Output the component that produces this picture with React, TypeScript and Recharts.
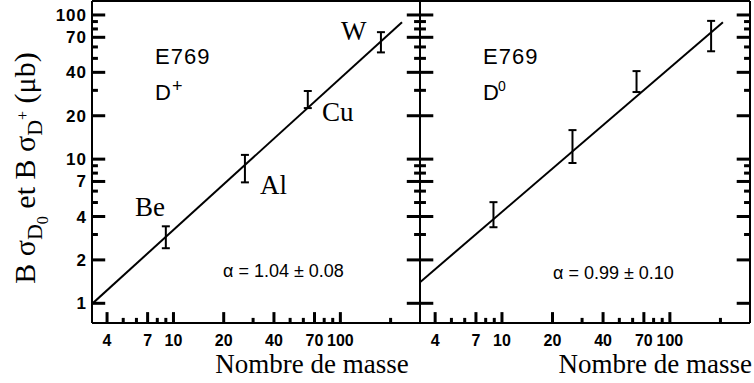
import React from 'react';
import { ScatterChart, Scatter, XAxis, YAxis, ErrorBar, ReferenceLine } from 'recharts';

// axis ticks (log scales)
const xTicks = [4, 5, 6, 7, 8, 9, 10, 20, 30, 40, 50, 60, 70, 80, 90, 100, 200];
const xLabeled = [4, 7, 10, 20, 40, 70, 100];
const yTicks = [1, 2, 3, 4, 5, 6, 7, 8, 9, 10, 20, 30, 40, 50, 60, 70, 80, 90, 100];
const yLabeled = [1, 2, 4, 7, 10, 20, 40, 70, 100];
const xDomain = [3.25, 300];
const yDomain = [0.73, 125];

const targets = ['Be', 'Al', 'Cu', 'W'];
const massDPlus = [9, 26.8, 63.8, 175];
const centerDPlus = [2.87, 8.6, 25.9, 64.7];
const lowDPlus = [2.41, 6.9, 22.6, 55];
const highDPlus = [3.42, 10.7, 29.7, 76];

const massD0 = [8.9, 26.3, 63.3, 176];
const centerD0 = [4.1, 12.2, 34.5, 71];
const lowD0 = [3.37, 9.4, 29.2, 56];
const highD0 = [5.03, 15.9, 40.8, 91];

// fitted power laws (end points)
const fitDPlusX = [3.25, 234];
const fitDPlusY = [0.99, 89];
const fitD0X = [3.25, 207];
const fitD0Y = [1.4, 89];

const toPoints = (mass: number[], c: number[], lo: number[], hi: number[]) =>
  mass.map((m, i) => ({ name: targets[i], x: m, y: c[i], err: [c[i] - lo[i], hi[i] - c[i]] }));
const toLine = (xs: number[], ys: number[]) => xs.map((x, i) => ({ x, y: ys[i] }));

const dPlus = toPoints(massDPlus, centerDPlus, lowDPlus, highDPlus);
const d0 = toPoints(massD0, centerD0, lowD0, highD0);
const fitDPlus = toLine(fitDPlusX, fitDPlusY);
const fitD0 = toLine(fitD0X, fitD0Y);

// inward tick lengths as log-scale factors (about 13px / 6px on x, 11px / 5px on y)
const xMajorK = 1.2;
const xMinorK = 1.085;
const yMajorK = 1.19;
const yMinorK = 1.085;

const tickFont = { fontFamily: 'Liberation Sans, Arial, sans-serif', fontWeight: 700 };
const serif = 'Liberation Serif, Times New Roman, serif';
const frame = { stroke: '#000', strokeWidth: 2 };

const XLabel = (p: any) => {
  const v = p.payload.value;
  if (!xLabeled.includes(v)) return <g />;
  return (
    <text x={p.x} y={Number(p.y) + 23} textAnchor="middle" fontSize={16} fill="#000" style={tickFont}>
      {v}
    </text>
  );
};

const YLabel = (p: any) => {
  const v = p.payload.value;
  if (!yLabeled.includes(v)) return <g />;
  return (
    <text x={Number(p.x) - 5} y={Number(p.y) + 6} textAnchor="end" fontSize={17} letterSpacing={1} fill="#000" style={tickFont}>
      {v}
    </text>
  );
};

const Empty = () => <g />;

function tickMarks() {
  const marks: any[] = [];
  yTicks.forEach((v) => {
    const k = yLabeled.includes(v) ? xMajorK : xMinorK;
    marks.push(
      <ReferenceLine key={`l${v}`} yAxisId="l" segment={[{ x: xDomain[0], y: v }, { x: xDomain[0] * k, y: v }]} stroke="#000" strokeWidth={3} ifOverflow="visible" />,
      <ReferenceLine key={`r${v}`} yAxisId="l" segment={[{ x: xDomain[1] / k, y: v }, { x: xDomain[1], y: v }]} stroke="#000" strokeWidth={3} ifOverflow="visible" />,
    );
  });
  xTicks.forEach((v) => {
    const k = xLabeled.includes(v) ? yMajorK : yMinorK;
    marks.push(
      <ReferenceLine key={`b${v}`} yAxisId="l" segment={[{ x: v, y: yDomain[0] }, { x: v, y: yDomain[0] * k }]} stroke="#000" strokeWidth={3} ifOverflow="visible" />,
    );
  });
  return marks;
}

function Panel({ points, fit, margin, labels }: any) {
  return (
    <ScatterChart width={754} height={383} margin={margin}>
      <XAxis
        dataKey="x"
        type="number"
        scale="log"
        domain={xDomain}
        allowDataOverflow
        ticks={xTicks}
        interval={0}
        axisLine={frame}
        tickLine={false}
        tickSize={0}
        tickMargin={0}
        height={30}
        tick={XLabel}
      />
      <XAxis
        xAxisId="top"
        orientation="top"
        dataKey="x"
        type="number"
        scale="log"
        domain={xDomain}
        allowDataOverflow
        axisLine={frame}
        tickLine={false}
        tick={false}
        height={1}
      />
      <YAxis
        yAxisId="l"
        dataKey="y"
        type="number"
        scale="log"
        domain={yDomain}
        allowDataOverflow
        ticks={yTicks}
        interval={0}
        axisLine={frame}
        tickLine={false}
        tickSize={0}
        tickMargin={0}
        width={labels ? 60 : 1}
        tick={labels ? YLabel : false}
      />
      <YAxis
        yAxisId="r"
        orientation="right"
        dataKey="y"
        type="number"
        scale="log"
        domain={yDomain}
        allowDataOverflow
        axisLine={frame}
        tickLine={false}
        tick={false}
        width={1}
      />
      {tickMarks()}
      <Scatter
        yAxisId="l"
        data={fit}
        line={{ stroke: '#000', strokeWidth: 2 }}
        lineType="joint"
        shape={Empty}
        isAnimationActive={false}
      />
      <Scatter yAxisId="l" data={points} shape={Empty} isAnimationActive={false}>
        <ErrorBar dataKey="err" direction="y" width={4} stroke="#000" strokeWidth={2} />
      </Scatter>
      <Scatter yAxisId="r" data={points} shape={Empty} isAnimationActive={false} />
      <Scatter xAxisId="top" yAxisId="l" data={points} shape={Empty} isAnimationActive={false} />
    </ScatterChart>
  );
}

const gothic = { fontFamily: 'Liberation Sans, Arial, sans-serif', fill: '#000' };

export default function App() {
  return (
    <div style={{ position: 'absolute', left: 0, top: 0, width: 754, height: 383, background: '#fff' }}>
      <div style={{ position: 'absolute', left: 0, top: 0 }}>
        <Panel points={dPlus} fit={fitDPlus} labels margin={{ top: 0, right: 333, bottom: 30, left: 32 }} />
      </div>
      <div style={{ position: 'absolute', left: 0, top: 0 }}>
        <Panel points={d0} fit={fitD0} labels={false} margin={{ top: 0, right: 3, bottom: 30, left: 419 }} />
      </div>
      <svg width={754} height={383} style={{ position: 'absolute', left: 0, top: 0, pointerEvents: 'none' }}>
        {/* y title */}
        <text transform="translate(35,168) rotate(-90)" textAnchor="middle" fontSize={30} fontFamily={serif} fill="#000">
          B σ<tspan dy={7} fontSize={22}>D</tspan>
          <tspan dy={6} fontSize={16}>0</tspan>
          <tspan dy={-13}> et B σ</tspan>
          <tspan dy={7} fontSize={22}>D</tspan>
          <tspan dy={-14} fontSize={16}>+</tspan>
          <tspan dy={7}> (μb)</tspan>
        </text>
        <text x={312} y={373} textAnchor="middle" fontSize={27} fontFamily={serif} fill="#000">Nombre de masse</text>
        <text x={752} y={373} textAnchor="end" fontSize={27} fontFamily={serif} fill="#000">Nombre de masse</text>

        {/* left panel annotations */}
        <text x={155} y={64} fontSize={22} letterSpacing={1} style={gothic}>E769</text>
        <text x={155} y={100} fontSize={22} style={gothic}>D</text>
        <text x={172} y={92} fontSize={18} style={gothic}>+</text>
        <text x={223} y={277} fontSize={18} style={gothic}>α = 1.04 ± 0.08</text>
        <text x={135} y={216} fontSize={27} fontFamily={serif} fill="#000">{targets[0]}</text>
        <text x={260} y={194} fontSize={27} fontFamily={serif} fill="#000">{targets[1]}</text>
        <text x={322} y={121} fontSize={27} fontFamily={serif} fill="#000">{targets[2]}</text>
        <text x={341} y={40} fontSize={27} fontFamily={serif} fill="#000">{targets[3]}</text>

        {/* right panel annotations */}
        <text x={483} y={64} fontSize={22} letterSpacing={1} style={gothic}>E769</text>
        <text x={483} y={100} fontSize={22} style={gothic}>D</text>
        <text x={498} y={91} fontSize={14} style={gothic}>0</text>
        <text x={553} y={279} fontSize={18} style={gothic}>α = 0.99 ± 0.10</text>
      </svg>
    </div>
  );
}
